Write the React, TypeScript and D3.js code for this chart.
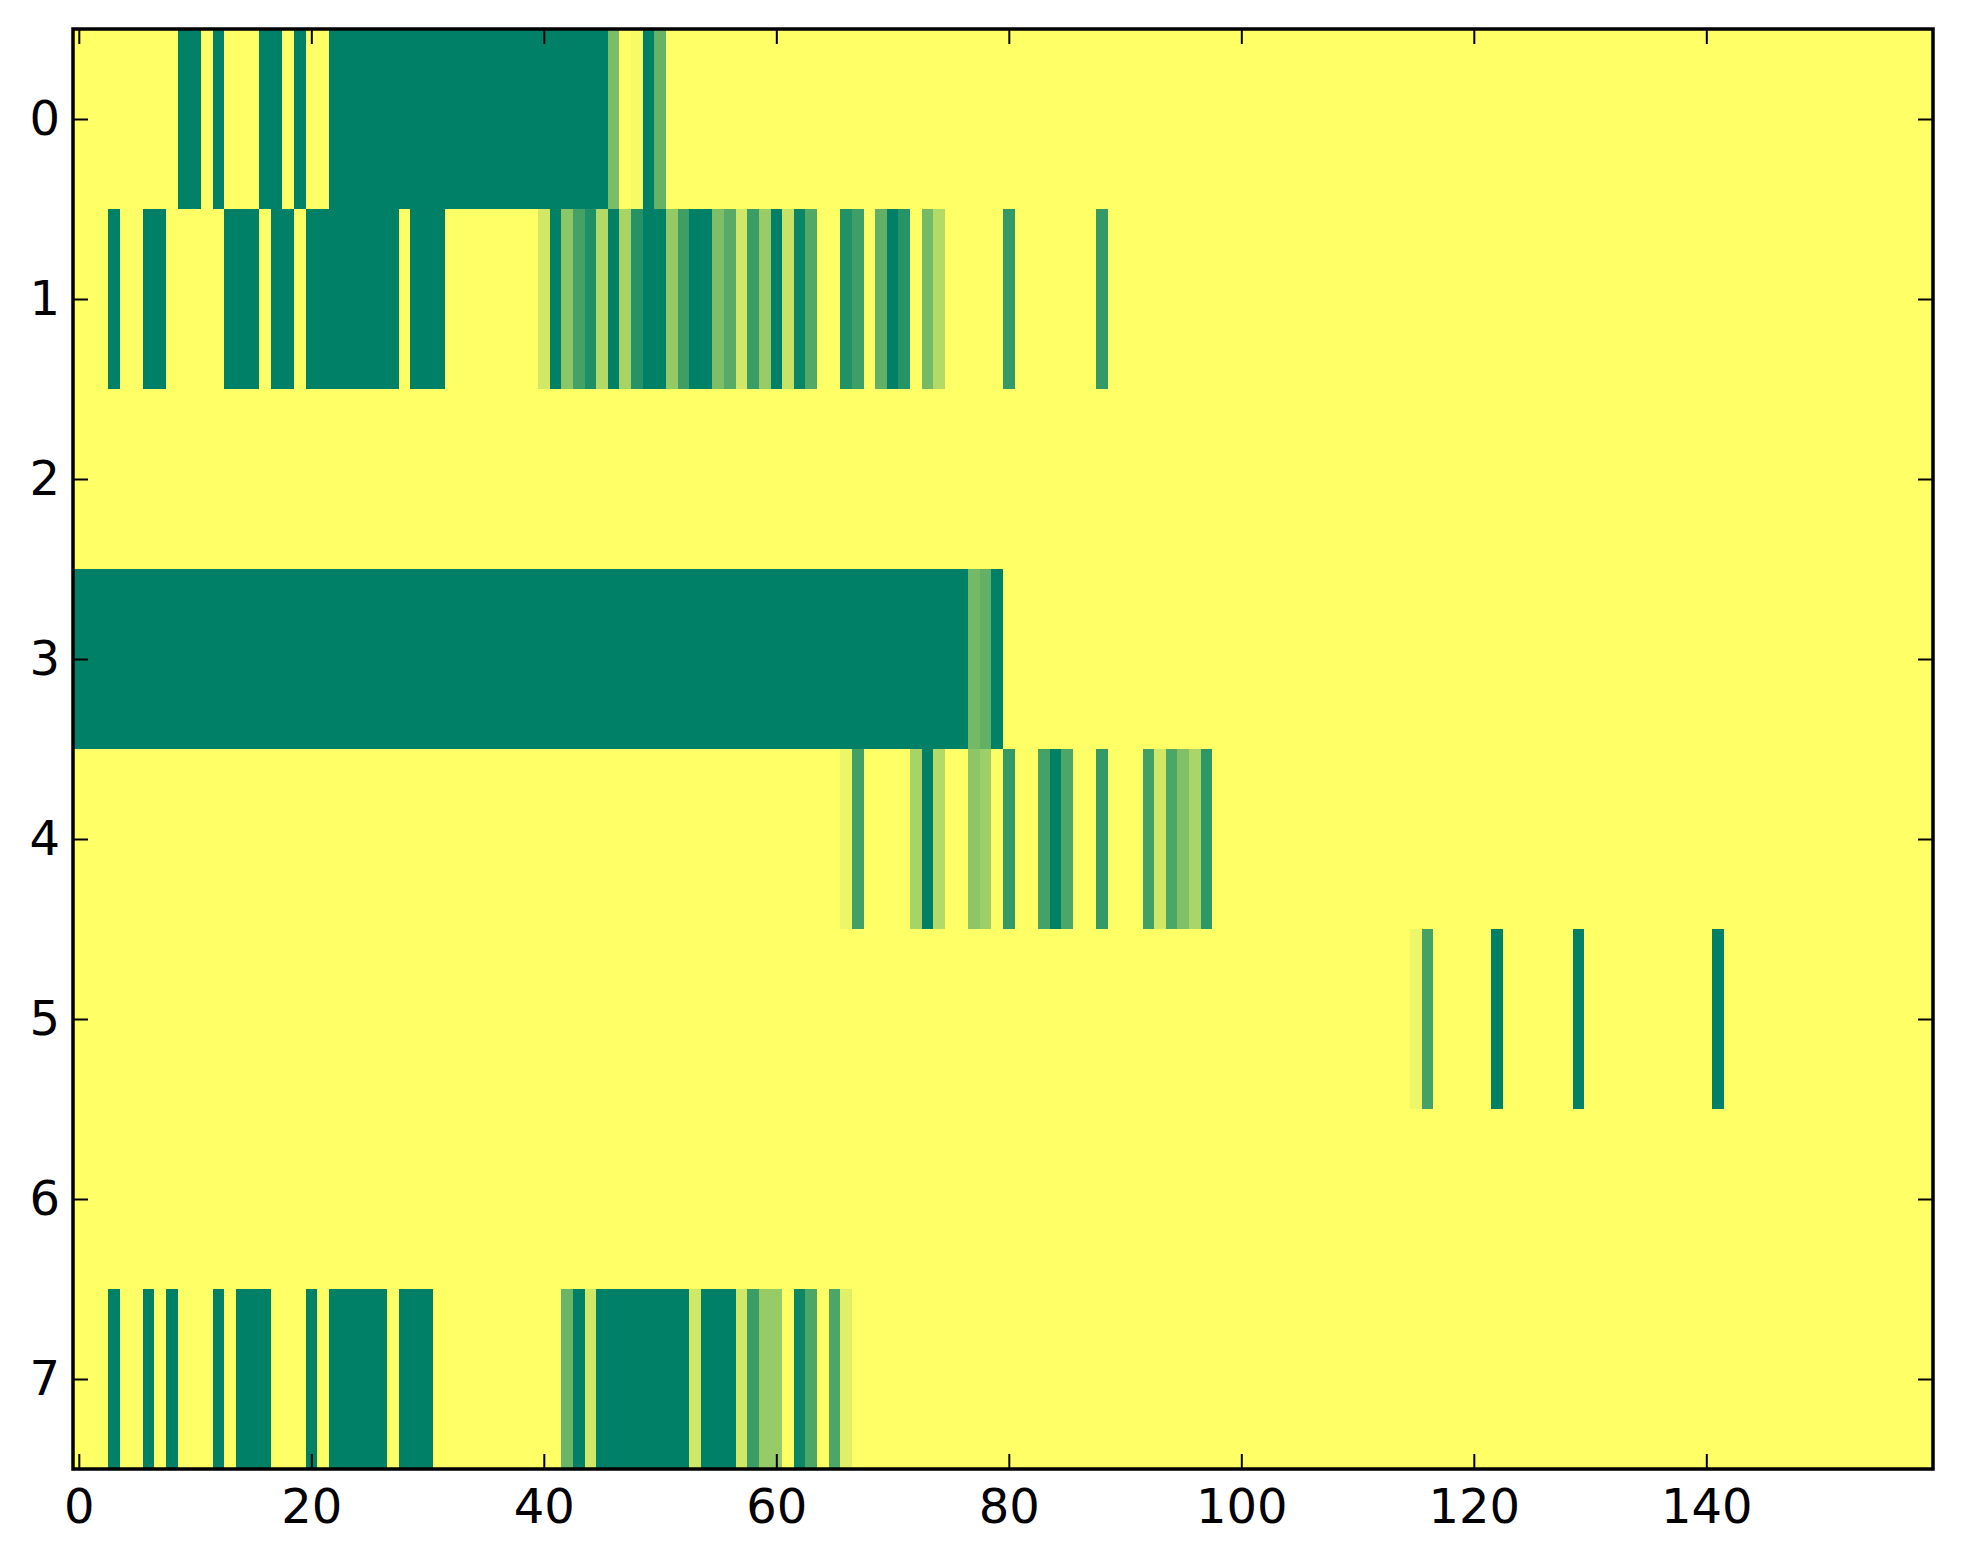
import { useEffect, useRef } from 'react';
import * as d3 from 'd3';

// each row is a list of runs: [firstColumn, lastColumn, value]
type Run = [number, number, number];

const nCols = 160;
const rowLabels = [0, 1, 2, 3, 4, 5, 6, 7];
const xTicks = [0, 20, 40, 60, 80, 100, 120, 140];

const row0: Run[] = [
  [9, 10, 1], [12, 12, 1], [16, 17, 1], [19, 19, 1], [22, 45, 1],
  [46, 46, 0.52], [48, 48, 0.03], [49, 49, 1], [50, 50, 0.6],
];
const row1: Run[] = [
  [3, 3, 1], [6, 7, 1], [13, 15, 1], [17, 18, 1], [20, 27, 1], [29, 31, 1],
  [40, 40, 0.18], [41, 41, 1], [42, 42, 0.45], [43, 43, 0.73], [44, 44, 0.88],
  [45, 45, 0.3], [46, 46, 1], [47, 47, 0.34], [48, 48, 0.85], [49, 50, 1],
  [51, 51, 0.42], [52, 52, 0.76], [53, 54, 1], [55, 55, 0.51], [56, 56, 0.66],
  [57, 57, 0.18], [58, 58, 0.77], [59, 59, 0.4], [60, 60, 1], [61, 61, 0.22],
  [62, 62, 0.96], [63, 63, 0.68], [66, 66, 0.87], [67, 67, 0.76], [69, 69, 0.62],
  [70, 70, 1], [71, 71, 0.85], [73, 73, 0.54], [74, 74, 0.3], [80, 80, 0.8],
  [88, 88, 0.8],
];
const row2: Run[] = [];
const row3: Run[] = [[0, 76, 1], [77, 77, 0.55], [78, 78, 0.62], [79, 79, 1]];
const row4: Run[] = [
  [66, 66, 0.07], [67, 67, 0.75], [72, 72, 0.34], [73, 73, 1], [74, 74, 0.3],
  [77, 77, 0.45], [78, 78, 0.38], [80, 80, 0.8], [83, 83, 0.73], [84, 84, 1],
  [85, 85, 0.7], [88, 88, 0.8], [92, 92, 0.75], [93, 93, 0.18], [94, 94, 0.7],
  [95, 95, 0.5], [96, 96, 0.33], [97, 97, 0.82],
];
const row5: Run[] = [[115, 115, 0.07], [116, 116, 0.73], [122, 122, 1], [129, 129, 1], [141, 141, 1]];
const row6: Run[] = [];
const row7: Run[] = [
  [3, 3, 1], [6, 6, 1], [8, 8, 1], [12, 12, 1], [14, 16, 1], [20, 20, 1],
  [22, 26, 1], [28, 30, 1], [42, 42, 0.58], [43, 43, 1], [44, 44, 0.18],
  [45, 52, 1], [53, 53, 0.18], [54, 56, 1], [57, 57, 0.18], [58, 58, 0.77],
  [59, 60, 0.41], [62, 62, 0.95], [63, 63, 0.7], [65, 65, 0.7], [66, 66, 0.12],
];

const rows = [row0, row1, row2, row3, row4, row5, row6, row7];

export default function App() {
  const svgRef = useRef<SVGSVGElement>(null);
  const width = 1963;
  const height = 1564;

  useEffect(() => {
    if (!svgRef.current) return;
    const svg = d3.select(svgRef.current);
    svg.selectAll('*').remove();

    const left = 73, right = 1933, top = 29, bottom = 1469;

    const x = d3.scaleLinear().domain([-0.5, nCols - 0.5]).range([left, right]);
    const y = d3.scaleLinear().domain([-0.5, rows.length - 0.5]).range([top, bottom]);
    // summer_r colormap
    const color = d3.scaleLinear<string>().domain([0, 1]).range(['#ffff66', '#008066']);

    // expand runs into a full grid
    const cells: { r: number; c: number; v: number }[] = [];
    rows.forEach((runs, r) => {
      const vals = new Array(nCols).fill(0);
      runs.forEach(([a, b, v]) => {
        for (let c = a; c <= b; c++) vals[c] = v;
      });
      vals.forEach((v, c) => cells.push({ r, c, v }));
    });

    svg.append('g')
      .selectAll('rect')
      .data(cells)
      .enter().append('rect')
      .attr('x', d => x(d.c - 0.5))
      .attr('y', d => y(d.r - 0.5))
      .attr('width', d => x(d.c + 0.5) - x(d.c - 0.5) + 0.4)
      .attr('height', d => y(d.r + 0.5) - y(d.r - 0.5) + 0.4)
      .attr('fill', d => color(d.v))
      .attr('shape-rendering', 'crispEdges');

    const font = '"DejaVu Sans", sans-serif';
    const styleAxis = (g: d3.Selection<SVGGElement, unknown, null, undefined>) => {
      g.select('.domain').remove();
      g.selectAll('.tick line').attr('stroke', '#000').attr('stroke-width', 2);
      g.selectAll('.tick text')
        .attr('fill', '#000')
        .style('font-family', font)
        .style('font-size', '48px');
    };

    svg.append('g')
      .attr('transform', `translate(0,${bottom})`)
      .call(d3.axisBottom(x).tickValues(xTicks).tickSize(-15).tickSizeOuter(0).tickPadding(20))
      .call(styleAxis);

    svg.append('g')
      .attr('transform', `translate(0,${top})`)
      .call(d3.axisTop(x).tickValues(xTicks).tickSize(-15).tickSizeOuter(0).tickFormat(() => ''))
      .call(styleAxis);

    svg.append('g')
      .attr('transform', `translate(${left},0)`)
      .call(d3.axisLeft(y).tickValues(rowLabels).tickSize(-15).tickSizeOuter(0).tickPadding(13).tickFormat(d3.format('d')))
      .call(styleAxis);

    svg.append('g')
      .attr('transform', `translate(${right},0)`)
      .call(d3.axisRight(y).tickValues(rowLabels).tickSize(-15).tickSizeOuter(0).tickFormat(() => ''))
      .call(styleAxis);

    // frame
    svg.append('rect')
      .attr('x', left)
      .attr('y', top)
      .attr('width', right - left)
      .attr('height', bottom - top)
      .attr('fill', 'none')
      .attr('stroke', '#000')
      .attr('stroke-width', 3.5);
  }, []);

  return (
    <svg
      ref={svgRef}
      width={width}
      height={height}
      style={{ position: 'absolute', left: 0, top: 0, background: '#fff' }}
    ></svg>
  );
}
